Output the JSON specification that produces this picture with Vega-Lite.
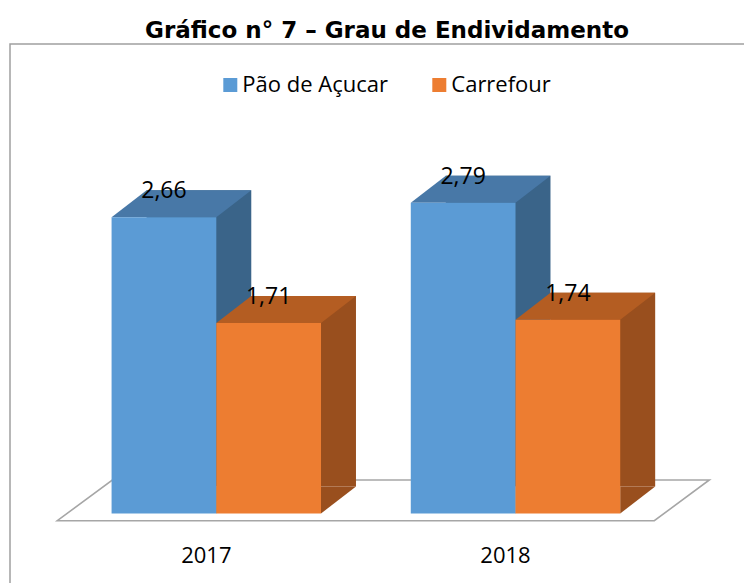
{
  "$schema": "https://vega.github.io/schema/vega-lite/v6.json",
  "autosize": {"type": "none"},
  "width": 754,
  "height": 549,
  "padding": {"left": 10, "top": 44, "right": -20, "bottom": -10},
  "background": "white",
  "config": {
    "view": {"stroke": "#A0A0A0", "strokeWidth": 1.5},
    "locale": {"number": {"decimal": ",", "thousands": ".", "grouping": [3], "currency": ["R$", ""]}}
  },
  "title": {
    "text": "Gráfico n° 7 – Grau de Endividamento",
    "font": "DejaVu Sans",
    "fontSize": 23,
    "fontWeight": "bold",
    "color": "#000000",
    "anchor": "middle",
    "offset": 1.5
  },
  "data": {
    "values": [
      {"ano": "2017", "serie": "Pão de Açucar", "valor": 2.66},
      {"ano": "2017", "serie": "Carrefour", "valor": 1.71},
      {"ano": "2018", "serie": "Pão de Açucar", "valor": 2.79},
      {"ano": "2018", "serie": "Carrefour", "valor": 1.74}
    ]
  },
  "resolve": {"scale": {"xOffset": "independent"}},
  "layer": [
    {
      "transform": [{"filter": "datum.ano == '2017' && datum.serie == 'Pão de Açucar'"}],
      "mark": {"type": "point", "shape": "M-159,7.2L438,7.2L493,-33.5L-104,-33.5Z", "size": 4, "filled": true, "color": "#FFFFFF", "stroke": "#A6A6A6", "strokeWidth": 1.6, "opacity": 1},
      "encoding": {
        "x": {"field": "ano", "type": "nominal", "scale": {"paddingInner": 0.3, "paddingOuter": 0.41, "align": 0.414}, "axis": {"orient": "bottom", "title": null, "domain": false, "ticks": false, "labelFont": "Open Sans", "labelFontSize": 22, "labelColor": "#000000", "labelAngle": 0, "labelBaseline": "middle", "labelPadding": 0, "offset": -38, "labelOffset": -10}},
        "y": {"datum": 0, "type": "quantitative", "scale": {"domain": [-0.7136, 4.2145], "nice": false, "zero": false}, "axis": null}
      }
    },
    {
      "mark": {"type": "bar", "yOffset": -27, "y2Offset": -27},
      "encoding": {
        "x": {"field": "ano", "type": "nominal"},
        "xOffset": {"field": "serie", "type": "nominal", "sort": ["Pão de Açucar", "Carrefour"], "scale": {"type": "band", "domain": ["Pão de Açucar", "Carrefour"], "range": [35, 244.4], "paddingInner": 0, "paddingOuter": 0}},
        "y": {"field": "valor", "type": "quantitative"},
        "fill": {"condition": {"test": "datum.serie == 'Carrefour'", "value": "#994F1E"}, "value": "#3A6489"}
      }
    },
    {
      "mark": {"type": "point", "shape": "M52.35,0L52.35,-27L87.35,-27Z", "size": 4, "filled": true, "opacity": 1, "strokeWidth": 0},
      "encoding": {
        "x": {"field": "ano", "type": "nominal"},
        "xOffset": {"field": "serie", "type": "nominal", "sort": ["Pão de Açucar", "Carrefour"], "scale": {"type": "band", "domain": ["Pão de Açucar", "Carrefour"], "paddingInner": 0, "paddingOuter": 0}},
        "y": {"datum": 0, "type": "quantitative"},
        "fill": {"condition": {"test": "datum.serie == 'Carrefour'", "value": "#994F1E"}, "value": "#3A6489"}
      }
    },
    {
      "mark": {"type": "point", "shape": "M-52.35,0L52.35,0L87.35,-27L-17.35,-27Z", "size": 4, "filled": true, "opacity": 1, "strokeWidth": 0},
      "encoding": {
        "x": {"field": "ano", "type": "nominal"},
        "xOffset": {"field": "serie", "type": "nominal", "sort": ["Pão de Açucar", "Carrefour"], "scale": {"type": "band", "domain": ["Pão de Açucar", "Carrefour"], "paddingInner": 0, "paddingOuter": 0}},
        "y": {"field": "valor", "type": "quantitative"},
        "fill": {"condition": {"test": "datum.serie == 'Carrefour'", "value": "#B45D22"}, "value": "#4878A7"}
      }
    },
    {
      "mark": {"type": "bar"},
      "encoding": {
        "x": {"field": "ano", "type": "nominal"},
        "xOffset": {"field": "serie", "type": "nominal", "sort": ["Pão de Açucar", "Carrefour"], "scale": {"type": "band", "domain": ["Pão de Açucar", "Carrefour"], "paddingInner": 0, "paddingOuter": 0}},
        "y": {"field": "valor", "type": "quantitative"},
        "color": {
          "field": "serie", "type": "nominal",
          "scale": {"domain": ["Pão de Açucar", "Carrefour"], "range": ["#5B9BD5", "#ED7D31"]},
          "legend": {"orient": "none", "direction": "horizontal", "legendX": 209.3, "legendY": 30, "title": null, "symbolType": "square", "symbolSize": 196, "symbolStrokeWidth": 0, "labelFont": "Open Sans", "labelFontSize": 22, "labelColor": "#000000", "labelOffset": 1, "columnPadding": 40}
        }
      }
    },
    {
      "mark": {"type": "text", "dy": -26, "baseline": "middle", "align": "center", "font": "Open Sans", "fontSize": 23, "color": "#000000"},
      "encoding": {
        "x": {"field": "ano", "type": "nominal"},
        "xOffset": {"field": "serie", "type": "nominal", "sort": ["Pão de Açucar", "Carrefour"], "scale": {"type": "band", "domain": ["Pão de Açucar", "Carrefour"], "paddingInner": 0, "paddingOuter": 0}},
        "y": {"field": "valor", "type": "quantitative"},
        "text": {"field": "valor", "type": "quantitative", "format": ".2f"}
      }
    }
  ]
}
